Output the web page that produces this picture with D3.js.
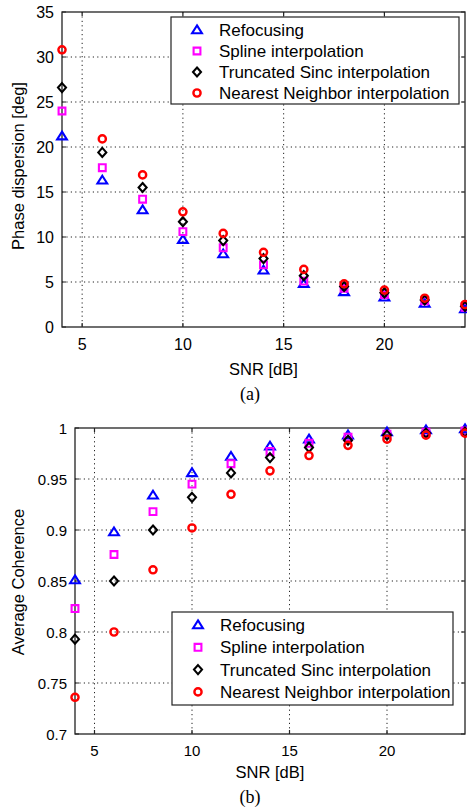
<!DOCTYPE html>
<html>
<head>
<meta charset="utf-8">
<script src="https://cdn.jsdelivr.net/npm/d3@7"></script>
<style>
  body { margin: 0; background: #fff; }
  svg { display: block; font-family: "Liberation Sans", Arial, Helvetica, sans-serif; }
  .grid line { stroke: #222; stroke-width: 1; stroke-dasharray: 1.2, 3.2; }
</style>
</head>
<body>
<svg width="467" height="812"></svg>
<script>
var snr = [4, 6, 8, 10, 12, 14, 16, 18, 20, 22, 24];
var methods = ["Refocusing", "Spline interpolation", "Truncated Sinc interpolation", "Nearest Neighbor interpolation"];

// (a) phase dispersion [deg]
var phaseRefocus = [21.2, 16.3, 13.0, 9.7, 8.1, 6.3, 4.8, 3.9, 3.3, 2.6, 2.0];
var phaseSpline  = [24.0, 17.7, 14.2, 10.6, 8.8, 6.9, 5.1, 4.3, 3.6, 2.9, 2.2];
var phaseSinc    = [26.6, 19.4, 15.5, 11.7, 9.6, 7.6, 5.7, 4.5, 3.8, 3.0, 2.3];
var phaseNN      = [30.8, 20.9, 16.9, 12.8, 10.4, 8.3, 6.4, 4.8, 4.1, 3.2, 2.5];

// (b) average coherence
var cohRefocus = [0.851, 0.898, 0.934, 0.956, 0.972, 0.982, 0.989, 0.993, 0.996, 0.998, 0.999];
var cohSpline  = [0.823, 0.876, 0.918, 0.945, 0.965, 0.977, 0.985, 0.991, 0.994, 0.996, 0.997];
var cohSinc    = [0.793, 0.850, 0.900, 0.932, 0.956, 0.971, 0.981, 0.988, 0.993, 0.995, 0.996];
var cohNN      = [0.736, 0.800, 0.861, 0.902, 0.935, 0.958, 0.973, 0.983, 0.989, 0.993, 0.995];

var xTicks = [5, 10, 15, 20];
var phaseTicks = [0, 5, 10, 15, 20, 25, 30, 35];
var cohTicks = [0.7, 0.75, 0.8, 0.85, 0.9, 0.95, 1];

var colors = ["#0000ff", "#ff00ff", "#000000", "#ff0000"];

var svg = d3.select("svg");

// matlab-ish marker outlines
function markerPath(i) {
  if (i == 0) return "M0,-4.6L4.9,3.2L-4.9,3.2Z";
  if (i == 1) return "M-3.4,-3.4H3.4V3.4H-3.4Z";
  if (i == 2) return "M0,-4.5L4,0L0,4.5L-4,0Z";
  var p = d3.path(); p.arc(0, 0, 3.6, 0, 2 * Math.PI); return p.toString();
}

function marker(sel, i) {
  sel.append("path")
    .attr("d", markerPath(i))
    .attr("fill", "none")
    .attr("stroke", colors[i])
    .attr("stroke-width", i == 3 ? 2.4 : 2.1);
}

function drawPanel(cfg) {
  var x = d3.scaleLinear().domain([4, 24]).range([cfg.left, 465]);
  var y = d3.scaleLinear().domain(cfg.yDomain).range([cfg.bottom, cfg.top]);
  var g = svg.append("g");

  // dotted grid
  var grid = g.append("g").attr("class", "grid");
  grid.selectAll(".gx").data(xTicks).enter().append("line")
    .attr("x1", function(d) { return x(d); }).attr("x2", function(d) { return x(d); })
    .attr("y1", cfg.top).attr("y2", cfg.bottom);
  grid.selectAll(".gy").data(cfg.yTicks.slice(1, -1)).enter().append("line")
    .attr("y1", function(d) { return y(d); }).attr("y2", function(d) { return y(d); })
    .attr("x1", cfg.left).attr("x2", 465);

  // box + inward ticks on all sides
  g.append("rect")
    .attr("x", cfg.left).attr("y", cfg.top)
    .attr("width", 465 - cfg.left).attr("height", cfg.bottom - cfg.top)
    .attr("fill", "none").attr("stroke", "#222").attr("stroke-width", 1.3);

  var tk = 4;
  g.selectAll(".tx").data(xTicks).enter().append("path")
    .attr("d", function(d) {
      return "M" + x(d) + "," + cfg.bottom + "v" + (-tk) + "M" + x(d) + "," + cfg.top + "v" + tk;
    })
    .attr("stroke", "#222").attr("stroke-width", 1.2);
  g.selectAll(".ty").data(cfg.yTicks).enter().append("path")
    .attr("d", function(d) {
      return "M" + cfg.left + "," + y(d) + "h" + tk + "M465," + y(d) + "h" + (-tk);
    })
    .attr("stroke", "#222").attr("stroke-width", 1.2);

  // tick labels
  g.selectAll(".lx").data(xTicks).enter().append("text")
    .attr("x", function(d) { return x(d); })
    .attr("y", cfg.bottom + cfg.tickDy)
    .attr("text-anchor", "middle")
    .style("font-size", cfg.tickSize)
    .text(function(d) { return d; });
  g.selectAll(".ly").data(cfg.yTicks).enter().append("text")
    .attr("x", cfg.left - 8)
    .attr("y", function(d) { return y(d) + 5.5; })
    .attr("text-anchor", "end")
    .style("font-size", cfg.tickSize)
    .text(function(d) { return d; });

  // axis titles + caption
  g.append("text")
    .attr("x", (cfg.left + 465) / 2).attr("y", cfg.bottom + cfg.titleDy)
    .attr("text-anchor", "middle").style("font-size", "16.5px")
    .text("SNR [dB]");
  g.append("text")
    .attr("transform", "translate(24," + cfg.yLabelMid + ") rotate(-90)")
    .attr("text-anchor", "middle").style("font-size", "16.5px")
    .text(cfg.yLabel);
  g.append("text")
    .attr("x", 250).attr("y", cfg.bottom + cfg.captionDy)
    .attr("text-anchor", "middle")
    .style("font-family", "'Liberation Serif', 'Times New Roman', serif")
    .style("font-size", "18px")
    .text(cfg.caption);

  // data markers
  cfg.series.forEach(function(vals, i) {
    g.append("g").selectAll("path").data(vals).enter().append("g")
      .attr("transform", function(d, j) { return "translate(" + x(snr[j]) + "," + y(d) + ")"; })
      .each(function() { marker(d3.select(this), i); });
  });

  // legend
  var lg = g.append("g").attr("transform", "translate(" + cfg.legend[0] + "," + cfg.legend[1] + ")");
  lg.append("rect")
    .attr("width", cfg.legend[2]).attr("height", cfg.legend[3])
    .attr("fill", "#fff").attr("stroke", "#222").attr("stroke-width", 1.2);
  methods.forEach(function(m, i) {
    var row = lg.append("g").attr("transform", "translate(0," + (13 + i * cfg.legend[4]) + ")");
    row.append("g").attr("transform", "translate(26,0)").each(function() { marker(d3.select(this), i); });
    row.append("text")
      .attr("x", 48).attr("y", 6)
      .style("font-size", "17px")
      .text(m);
  });
}

drawPanel({
  left: 62, top: 12, bottom: 327,
  yDomain: [0, 35], yTicks: phaseTicks,
  tickSize: "16px", tickDy: 23, titleDy: 48, captionDy: 73,
  yLabel: "Phase dispersion [deg]", yLabelMid: 166, caption: "(a)",
  series: [phaseRefocus, phaseSpline, phaseSinc, phaseNN],
  legend: [171, 17, 288, 87, 21]
});

drawPanel({
  left: 75, top: 428, bottom: 734,
  yDomain: [0.7, 1], yTicks: cohTicks,
  tickSize: "15px", tickDy: 21.5, titleDy: 44, captionDy: 69,
  yLabel: "Average Coherence", yLabelMid: 582, caption: "(b)",
  series: [cohRefocus, cohSpline, cohSinc, cohNN],
  legend: [172, 612, 281, 93, 22.3]
});
</script>
</body>
</html>
